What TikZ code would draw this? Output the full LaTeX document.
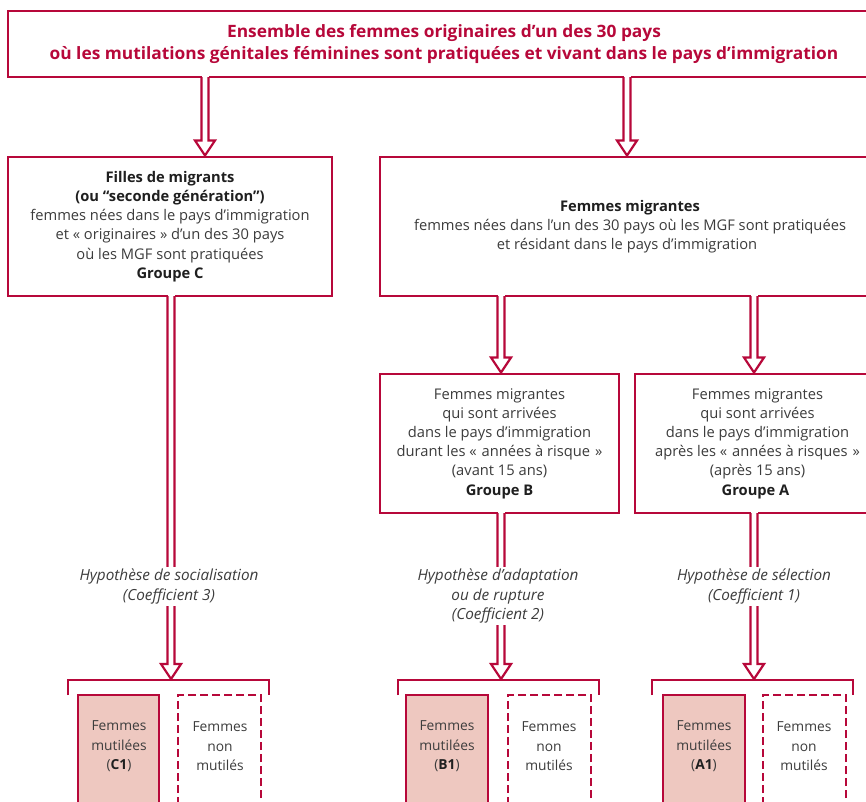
\documentclass[tikz,border=0pt]{standalone}
\usepackage{fontspec}
\setmainfont{Open Sans}
\newfontfamily\titlefont[FakeStretch=1.02]{Open Sans}
\usetikzlibrary{calc}
\definecolor{mgfred}{RGB}{183,8,58}
\definecolor{mgfpink}{RGB}{238,200,192}
\definecolor{txtgray}{RGB}{60,60,60}
\newcommand\bk[1]{\textcolor{black!88}{\textbf{#1}}}
\newcommand\dblarr[2]{%
  \path (#1) coordinate (tmpS) (#2) coordinate (tmpT);
  \fill[white] ($(tmpS)+(-3.5,-2.5)$) rectangle ($(tmpT)+(3.5,-15)$);
  \draw[arrline] ($(tmpS)+(-3.5,0)$) -- ($(tmpT)+(-3.5,-15)$) -- ($(tmpT)+(-10,-15)$) -- (tmpT) -- ($(tmpT)+(10,-15)$) -- ($(tmpT)+(3.5,-15)$) -- ($(tmpS)+(3.5,0)$);
}
\begin{document}
\begin{tikzpicture}[x=1pt,y=-1pt,
  redline/.style={draw=mgfred, line width=2.4pt},
  arrline/.style={draw=mgfred, line width=2.2pt, line join=miter},
  box/.style={redline, anchor=north west, inner sep=0pt, outer sep=0pt, align=center, text=txtgray,
    font=\fontsize{14.7}{19.2}\selectfont},
  hypo/.style={fill=white, inner xsep=2pt, inner ysep=2.5pt, align=center, text=txtgray,
    font=\fontsize{15.3}{19.2}\selectfont\itshape},
  resbox/.style={redline, anchor=north west, inner sep=0pt, outer sep=0pt},
  restext/.style={align=center, text=txtgray, font=\fontsize{13.8}{19.5}\selectfont}]
\useasboundingbox (0,0) rectangle (866,801);
\clip (0,0) rectangle (866,801);
\fill[white] (0,0) rectangle (866,801);

% boxes
\node[box, minimum width=872pt, minimum height=66pt, text=mgfred,
  font=\titlefont\fontsize{17}{22}\selectfont\bfseries] (top) at (8,11)
  {Ensemble des femmes originaires d’un des 30 pays\\
   où les mutilations génitales féminines sont pratiquées et vivant dans le pays d’immigration};

\node[box, minimum width=324pt, minimum height=139pt] (grC) at (8,157)
  {\bk{Filles de migrants}\\ \bk{(ou “seconde génération”)}\\
   femmes nées dans le pays d’immigration\\ et « originaires » d’un des 30 pays\\
   où les MGF sont pratiquées\\ \bk{Groupe C}};

\node[box, minimum width=500pt, minimum height=139pt] (mig) at (380,157)
  {\bk{Femmes migrantes}\\ femmes nées dans l’un des 30 pays où les MGF sont pratiquées\\
   et résidant dans le pays d’immigration\hspace*{6pt}};

\node[box, minimum width=239pt, minimum height=139pt] (grB) at (380,374)
  {Femmes migrantes\\ qui sont arrivées\\ dans le pays d’immigration\\
   durant les «\,\,années à risque\,\,»\\ (avant 15 ans)\\ \bk{Groupe B}};

\node[box, minimum width=245pt, minimum height=139pt] (grA) at (635,374)
  {Femmes migrantes\\ qui sont arrivées\\ dans le pays d’immigration\\
   après les «\,\,années à risques\,\,»\\ (après 15 ans)\\ \bk{Groupe A}\hspace*{4pt}};

% arrow x positions
\coordinate (xC) at (205,0);
\coordinate (xM) at (627,0);
\coordinate (xB) at (501,0);
\coordinate (xA) at (754,0);
\coordinate (xC2) at (171,0);
\coordinate (xB2) at (501,0);
\coordinate (xA2) at (754,0);

% bracket target points
\coordinate (brC) at (171,679);
\coordinate (brB) at (501,679);
\coordinate (brA) at (754,679);

\dblarr{xC |- top.south}{$(xC |- grC.north)+(0,-1.5)$}
\dblarr{xM |- top.south}{$(xM |- mig.north)+(0,-1.5)$}
\dblarr{xB |- mig.south}{$(xB |- grB.north)+(0,-1.5)$}
\dblarr{xA |- mig.south}{$(xA |- grA.north)+(0,-1.5)$}
\dblarr{xC2 |- grC.south}{brC}
\dblarr{xB2 |- grB.south}{brB}
\dblarr{xA2 |- grA.south}{brA}

% hypothesis labels
\node[hypo] (hC) at (169,586.5) {Hypothèse de socialisation\\(Coefficient 3)};
\node[hypo] (hB) at (498,596) {Hypothèse d’adaptation\\ou de rupture\\(Coefficient 2)};
\node[hypo] (hA) at (754,586.5) {Hypothèse de sélection\\(Coefficient 1)};

% brackets
\draw[redline] (68,695) -- (68,680) -- (269,680) -- (269,695);
\draw[redline] (398,695) -- (398,680) -- (599,680) -- (599,695);
\draw[redline] (652,695) -- (652,680) -- (853,680) -- (853,695);

% result boxes
\node[resbox, fill=mgfpink, minimum width=81pt, minimum height=140pt] (c1) at (78,695) {};
\node[resbox, dash pattern=on 8pt off 4pt, minimum width=83pt, minimum height=140pt] (c0) at (178,695) {};
\node[resbox, fill=mgfpink, minimum width=82pt, minimum height=140pt] (b1) at (406,695) {};
\node[resbox, dash pattern=on 8pt off 4pt, minimum width=83pt, minimum height=140pt] (b0) at (508,695) {};
\node[resbox, fill=mgfpink, minimum width=82pt, minimum height=140pt] (a1) at (663,695) {};
\node[resbox, dash pattern=on 8pt off 4pt, minimum width=83pt, minimum height=140pt] (a0) at (763,695) {};

\node[restext] (c1t) at (119,746.5) {Femmes\\mutilées\\(\bk{C1})};
\node[restext] (c0t) at (220,746.5) {Femmes\\non\\mutilés};
\node[restext] (b1t) at (447,746.5) {Femmes\\mutilées\\(\bk{B1})};
\node[restext] (b0t) at (549,746.5) {Femmes\\non\\mutilés};
\node[restext] (a1t) at (704,746.5) {Femmes\\mutilées\\(\bk{A1})};
\node[restext] (a0t) at (804,746.5) {Femmes\\non\\mutilés};
\end{tikzpicture}
\end{document}
